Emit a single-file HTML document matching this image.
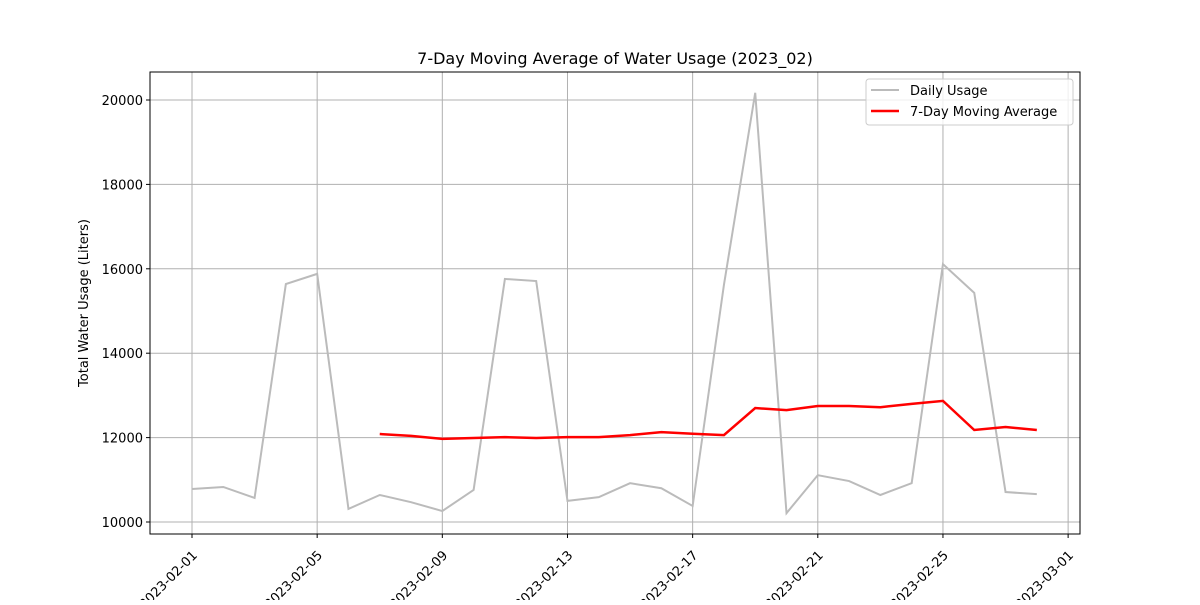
<!DOCTYPE html>
<html><head><meta charset="utf-8"><style>body{margin:0;background:#fff}svg{font-family:"DejaVu Sans","Liberation Sans",sans-serif}</style></head>
<body>
<svg id="c" width="1200" height="600" xmlns="http://www.w3.org/2000/svg"></svg>
<script>
const daily=[10782,10830,10570,15640,15880,10310,10640,10470,10260,10760,15760,15710,10500,10590,10920,10800,10380,15620,20170,10210,11110,10970,10640,10920,16110,15430,10710,10660];
const maStart=6;
const ma=[12085,12040,11970,11990,12010,11990,12010,12010,12060,12130,12090,12060,12700,12650,12750,12750,12720,12800,12870,12180,12250,12180];
const xTickDays=[0,4,8,12,16,20,24,28];
const xTickLabels=["2023-02-01","2023-02-05","2023-02-09","2023-02-13","2023-02-17","2023-02-21","2023-02-25","2023-03-01"];
const yTicks=[10000,12000,14000,16000,18000,20000];
const L=150,R=1080,T=72,B=534;
const x=d=>192+d*31.29;
const y=v=>522-(v-10000)*0.0422;
const svg=document.getElementById('c');
const NS='http://www.w3.org/2000/svg';
function mk(t,a,p){const e=document.createElementNS(NS,t);for(const k in a)e.setAttribute(k,a[k]);(p||svg).appendChild(e);return e;}
let e=mk('text',{x:615,y:64,'text-anchor':'middle','font-size':16});e.textContent='7-Day Moving Average of Water Usage (2023_02)';


xTickDays.forEach((d,i)=>{
  e=mk('line',{x1:x(d),x2:x(d),y1:T,y2:B,stroke:'#b0b0b0','stroke-width':1});
  
  
  mk('line',{x1:x(d),x2:x(d),y1:B,y2:B+4,stroke:'#000'});
  e=mk('text',{x:x(d)+6,y:B+22,'text-anchor':'end','font-size':13,transform:`rotate(-45 ${x(d)+6} ${B+22})`});
  e.textContent=xTickLabels[i];
  
  
});
yTicks.forEach(v=>{
  e=mk('line',{x1:L,x2:R,y1:y(v),y2:y(v),stroke:'#b0b0b0','stroke-width':1});
  
  
  mk('line',{x1:L-4,x2:L,y1:y(v),y2:y(v),stroke:'#000'});
  e=mk('text',{x:L-7,y:y(v)+5,'text-anchor':'end','font-size':13});e.textContent=v;
  
  
});
e=mk('text',{x:88,y:303,'text-anchor':'middle','font-size':13,transform:'rotate(-90 88 303)'});e.textContent='Total Water Usage (Liters)';


e=mk('polyline',{points:daily.map((v,i)=>x(i)+','+y(v)).join(' '),fill:'none',stroke:'#bbbbbb','stroke-width':2});


e=mk('polyline',{points:ma.map((v,i)=>x(i+maStart)+','+y(v)).join(' '),fill:'none',stroke:'#ff0000','stroke-width':2.5});


e=mk('rect',{x:L,y:T,width:R-L,height:B-T,fill:'none',stroke:'#000','stroke-width':1});


const g=mk('g',{});


mk('rect',{x:866,y:79,width:207,height:46,rx:3,fill:'#fff','fill-opacity':0.8,stroke:'#ccc'},g);
mk('line',{x1:871,x2:899,y1:90,y2:90,stroke:'#bbb','stroke-width':2},g);
e=mk('text',{x:910,y:95,'font-size':13},g);e.textContent='Daily Usage';


mk('line',{x1:871,x2:899,y1:111,y2:111,stroke:'#f00','stroke-width':2.5},g);
e=mk('text',{x:910,y:116,'font-size':13},g);e.textContent='7-Day Moving Average';


</script>
</body></html>
